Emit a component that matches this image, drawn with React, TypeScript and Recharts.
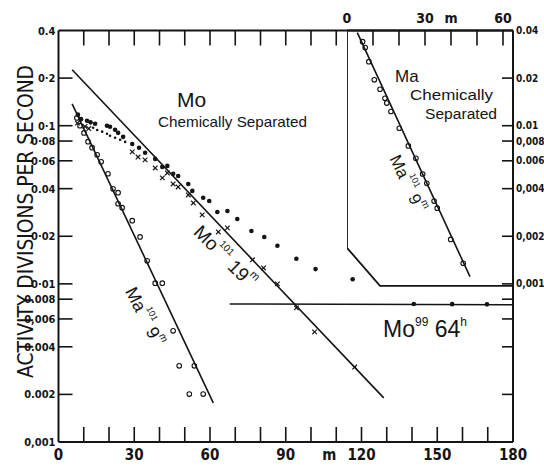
import React from 'react';
import { ComposedChart, Line, Scatter, XAxis, YAxis } from 'recharts';

const W = 544;
const H = 466;
const INK = '#141414';
const TICK_FONT = "'Liberation Sans Narrow', 'DejaVu Sans Condensed', 'Liberation Sans', sans-serif";
const HAND_FONT = "'Liberation Sans', 'DejaVu Sans', sans-serif";

// main frame: minutes after separation vs activity
const xTicks = [0, 10, 20, 30, 40, 50, 60, 70, 80, 90, 100, 110, 120, 130, 140, 150, 160, 170, 180];
const xTickLabels: Record<number, string> = { 0: '0', 30: '30', 60: '60', 90: '90', 110: 'm', 120: '120', 150: '150', 180: '180' };
const topTicks = [10, 20, 30, 40, 50, 60, 70, 80, 90, 100, 110];
const yTicks = [0.4, 0.2, 0.1, 0.08, 0.06, 0.04, 0.02, 0.01, 0.008, 0.006, 0.004, 0.002, 0.001];
const yTickLabels = ['0.4', '0·2', '0·1', '0·08', '0·06', '0.04', '0·02', '0·01', '0.008', '0,006', '0.004', '0.002', '0,001'];

// inset frame (Ma chemically separated)
const insetXTicks = [0, 10, 20, 30, 40, 50, 60];
const insetXLabels: Record<number, string> = { 0: '0', 30: '30', 40: 'm', 60: '60' };
const insetYTicks = [0.04, 0.02, 0.01, 0.008, 0.006, 0.004, 0.002, 0.001, 0.0008, 0.0006, 0.0004, 0.0002];
const insetYLabels = ['0.04', '0.02', '0.01', '0,008', '0.006', '0,004', '0,002', '0,001', '', '', '', ''];

type P = [number, number];

// fitted decay lines
const mo101Fit: P[] = [[5.4, 0.2257], [128.8, 0.0019]];
const ma101Fit: P[] = [[5.4, 0.1375], [61.3, 0.00177]];
const mo99Fit: P[] = [[67.8, 0.00746], [180, 0.00738]];

// Mo chemically separated, total activity
const totalDots: P[] = [
  [7.7, 0.1175], [8.9, 0.11], [11.3, 0.1076], [12.7, 0.105], [14.5, 0.103], [19.2, 0.0999],
  [20.4, 0.0985], [22.4, 0.0942], [23.6, 0.0901], [25.6, 0.085], [29.2, 0.0767], [31.9, 0.0725],
  [34.3, 0.0674], [38.3, 0.0617], [41.1, 0.0549], [43.1, 0.0557], [45.4, 0.0496], [47.4, 0.0481],
  [51.4, 0.0428], [53.0, 0.0387], [57.3, 0.035], [59.7, 0.0334], [62.9, 0.0285], [66.9, 0.0289],
  [70.8, 0.0257], [76.4, 0.0216], [81.5, 0.0198], [86.7, 0.0174], [94.2, 0.0144], [101.8, 0.0124],
  [116.5, 0.0107],
];
// after subtracting Mo99
const crosses: P[] = [
  [7.5, 0.104], [10.5, 0.099], [12.0, 0.096], [29.2, 0.0683], [31.5, 0.0634], [34.3, 0.0608],
  [38.3, 0.0541], [41.1, 0.0468], [43.1, 0.0503], [45.4, 0.0428], [47.4, 0.041], [51.4, 0.0365],
  [53.4, 0.0325], [56.9, 0.0273], [63.3, 0.0213], [66.9, 0.0226], [76.8, 0.0142], [81.2, 0.0126],
  [86.7, 0.01], [94.2, 0.00705], [101.4, 0.00497], [117.3, 0.00298],
];
const smallDots: P[] = [
  [13.7, 0.097], [15.3, 0.094], [17.3, 0.0917], [19.2, 0.089], [20.4, 0.0864], [22.4, 0.084],
  [24.4, 0.0815], [26.4, 0.079],
];
const maCircles: P[] = [
  [7.3, 0.112], [8.5, 0.1], [10.1, 0.09], [11.7, 0.0793], [13.3, 0.0726], [15.3, 0.0655],
  [16.9, 0.0591], [19.6, 0.0497], [21.6, 0.0399], [23.6, 0.0377], [23.6, 0.0321], [25.2, 0.0303],
  [29.2, 0.0251], [32.3, 0.0198], [35.1, 0.014], [38.3, 0.0101], [41.1, 0.0101], [45.4, 0.00505],
  [47.8, 0.00303], [53.8, 0.00303], [51.8, 0.00201], [57.3, 0.00201],
];
const mo99Dots: P[] = [[140.7, 0.00746], [155.9, 0.00744], [169.7, 0.00742]];

// inset data
const insetMaFit: P[] = [[3.96, 0.0388], [47.3, 0.00111]];
const insetMaCircles: P[] = [
  [6.0, 0.034], [7.0, 0.0312], [8.4, 0.0254], [10.5, 0.0195], [12.7, 0.017], [14.6, 0.0149],
  [15.3, 0.0139], [16.9, 0.0123], [20.1, 0.00964], [23.6, 0.00745], [26.5, 0.00622], [29.1, 0.00495],
  [30.7, 0.00432], [33.5, 0.00334], [34.7, 0.00301], [39.9, 0.00191], [44.7, 0.00135],
];
const insetFrame: P[] = [[0, 0.04], [0, 0.00169], [12.7, 0.00097], [63.85, 0.00097]];

const pts = (a: P[]) => a.map(([t, v]) => ({ t, v }));

const BottomTick = (p: any) => {
  const v = p.payload.value;
  const lab = xTickLabels[v];
  return (
    <g>
      {v > 0 && v < 180 && <line x1={p.x} x2={p.x} y1={p.y} y2={p.y - 15} stroke={INK} strokeWidth={1.6} />}
      {lab && (
        <text x={p.x + (v === 110 ? -7 : 0)} y={p.y + 18} textAnchor="middle" fontSize={15} fontWeight={700} fill={INK} fontFamily={TICK_FONT}>
          {lab}
        </text>
      )}
    </g>
  );
};

const TopTick = (p: any) => (
  <line x1={p.x} x2={p.x} y1={p.y} y2={p.y + 15} stroke={INK} strokeWidth={1.6} />
);

const LeftTick = (p: any) => {
  const v = p.payload.value;
  const i = yTicks.indexOf(v);
  return (
    <g>
      {i > 0 && i < yTicks.length - 1 && <line x1={p.x} x2={p.x + 14} y1={p.y} y2={p.y} stroke={INK} strokeWidth={1.6} />}
      <text x={p.x - 3} y={p.y + 4} textAnchor="end" fontSize={11} fontWeight={700} fill={INK} fontFamily={TICK_FONT}>
        {yTickLabels[i]}
      </text>
    </g>
  );
};

const InsetTopTick = (p: any) => {
  const v = p.payload.value;
  const lab = insetXLabels[v];
  return (
    <g>
      {v > 0 && <line x1={p.x} x2={p.x} y1={p.y} y2={p.y + 15} stroke={INK} strokeWidth={1.6} />}
      {lab && (
        <text x={p.x} y={p.y - 8} textAnchor="middle" fontSize={14} fontWeight={700} fill={INK} fontFamily={TICK_FONT}>
          {lab}
        </text>
      )}
    </g>
  );
};

const RightTick = (p: any) => {
  const v = p.payload.value;
  const i = insetYTicks.indexOf(v);
  return (
    <g>
      {i > 0 && <line x1={p.x} x2={p.x - 11} y1={p.y} y2={p.y} stroke={INK} strokeWidth={1.6} />}
      {insetYLabels[i] && (
        <text x={p.x + 3} y={p.y + 3.5} fontSize={10} fontWeight={700} fill={INK} fontFamily={TICK_FONT}>
          {insetYLabels[i]}
        </text>
      )}
    </g>
  );
};

const openCircle = (p: any) => <circle cx={p.cx} cy={p.cy} r={2.3} fill="none" stroke={INK} strokeWidth={1.1} />;
const filledDot = (p: any) => <circle cx={p.cx} cy={p.cy} r={2.3} fill={INK} />;
const smallDot = (p: any) => <circle cx={p.cx} cy={p.cy} r={1.3} fill={INK} />;
const cross = (p: any) => (
  <g stroke={INK} strokeWidth={1.2}>
    <line x1={p.cx - 2.3} y1={p.cy - 2.3} x2={p.cx + 2.3} y2={p.cy + 2.3} />
    <line x1={p.cx - 2.3} y1={p.cy + 2.3} x2={p.cx + 2.3} y2={p.cy - 2.3} />
  </g>
);

const layer: React.CSSProperties = { position: 'absolute', left: 0, top: 0 };

const App = () => {
  return (
    <div style={{ position: 'absolute', left: 0, top: 0, width: W, height: H, background: '#fff' }}>
      <div style={layer}>
        <ComposedChart width={W} height={H} margin={{ top: 29.5, right: 31, bottom: 0, left: 0 }}>
          <XAxis
            dataKey="t" type="number" domain={[0, 180]} ticks={xTicks} interval={0} allowDataOverflow
            height={24} tickSize={0} tickMargin={0} tickLine={false} tick={BottomTick}
            axisLine={{ stroke: INK, strokeWidth: 2 }}
          />
          <XAxis
            xAxisId="top" orientation="top" dataKey="t" type="number" domain={[0, 180]} ticks={topTicks}
            interval={0} allowDataOverflow height={1} tickSize={0} tickMargin={0} tickLine={false}
            tick={TopTick} axisLine={{ stroke: INK, strokeWidth: 2 }}
          />
          <YAxis
            dataKey="v" type="number" scale="log" domain={[0.001, 0.4]} ticks={yTicks} interval={0}
            allowDataOverflow width={58.5} tickSize={0} tickMargin={0} tickLine={false} tick={LeftTick}
            axisLine={{ stroke: INK, strokeWidth: 2 }}
          />
          <Line data={pts(mo101Fit)} dataKey="v" type="linear" stroke={INK} strokeWidth={1.6} dot={false} isAnimationActive={false} />
          <Line data={pts(ma101Fit)} dataKey="v" type="linear" stroke={INK} strokeWidth={1.6} dot={false} isAnimationActive={false} />
          <Line data={pts(mo99Fit)} dataKey="v" type="linear" stroke={INK} strokeWidth={1.6} dot={false} isAnimationActive={false} />
          <Scatter data={pts(smallDots)} dataKey="v" shape={smallDot} isAnimationActive={false} />
          <Scatter data={pts(totalDots)} dataKey="v" shape={filledDot} isAnimationActive={false} />
          <Scatter data={pts(crosses)} dataKey="v" shape={cross} isAnimationActive={false} />
          <Scatter data={pts(maCircles)} dataKey="v" shape={openCircle} isAnimationActive={false} />
          <Scatter data={pts(mo99Dots)} dataKey="v" shape={filledDot} isAnimationActive={false} />
        </ComposedChart>
      </div>
      <div style={layer}>
        <ComposedChart width={W} height={H} margin={{ top: 29.5, right: 0, bottom: 24, left: 347 }}>
          <XAxis
            orientation="top" dataKey="t" type="number" domain={[0, 63.85]} ticks={insetXTicks} interval={0}
            allowDataOverflow height={1} tickSize={0} tickMargin={0} tickLine={false} tick={InsetTopTick}
            axisLine={{ stroke: INK, strokeWidth: 2 }}
          />
          <YAxis
            orientation="right" dataKey="v" type="number" scale="log" domain={[0.0001, 0.04]} ticks={insetYTicks}
            interval={0} allowDataOverflow width={31} tickSize={0} tickMargin={0} tickLine={false} tick={RightTick}
            axisLine={{ stroke: INK, strokeWidth: 2 }}
          />
          <Line data={pts(insetFrame)} dataKey="v" type="linear" stroke={INK} strokeWidth={1.8} dot={false} isAnimationActive={false} />
          <Line data={pts(insetMaFit)} dataKey="v" type="linear" stroke={INK} strokeWidth={1.6} dot={false} isAnimationActive={false} />
          <Scatter data={pts(insetMaCircles)} dataKey="v" shape={openCircle} isAnimationActive={false} />
        </ComposedChart>
      </div>
      <svg width={W} height={H} style={{ ...layer, pointerEvents: 'none' }} fontFamily={HAND_FONT} fill={INK}>
        <text transform="translate(25,221.5) rotate(-90)" textAnchor="middle" dominantBaseline="central" fontSize={22} textLength={313} lengthAdjust="spacingAndGlyphs" fontFamily={TICK_FONT}>
          ACTIVITY DIVISIONS PER SECOND
        </text>
        <text x={177} y={107} fontSize={21}>Mo</text>
        <text x={158} y={127} fontSize={15} textLength={149} lengthAdjust="spacingAndGlyphs">Chemically Separated</text>
        <text x={395} y={82} fontSize={17}>Ma</text>
        <text x={410} y={100} fontSize={14} textLength={83} lengthAdjust="spacingAndGlyphs">Chemically</text>
        <text x={425} y={119} fontSize={14} textLength={72} lengthAdjust="spacingAndGlyphs">Separated</text>
        <text transform="translate(225,256.5) rotate(45)" textAnchor="middle" dominantBaseline="central" fontSize={19}>
          Mo<tspan fontSize={10} dy={-8}>101</tspan><tspan dy={8}> 19</tspan><tspan fontSize={11} dy={-8}>m</tspan>
        </text>
        <text transform="translate(144.5,316.5) rotate(63)" textAnchor="middle" dominantBaseline="central" fontSize={18}>
          Ma<tspan fontSize={9} dy={-8}>101</tspan><tspan dy={8}> 9</tspan><tspan fontSize={10} dy={-8}>m</tspan>
        </text>
        <text transform="translate(407.5,183.5) rotate(64)" textAnchor="middle" dominantBaseline="central" fontSize={17}>
          Ma<tspan fontSize={9} dy={-8}>101</tspan><tspan dy={8}> 9</tspan><tspan fontSize={10} dy={-8}>m</tspan>
        </text>
        <text x={383} y={337} fontSize={23}>
          Mo<tspan fontSize={12} dy={-11}>99</tspan><tspan dy={11}> 64</tspan><tspan fontSize={12} dy={-11}>h</tspan>
        </text>
      </svg>
    </div>
  );
};

export default App;
